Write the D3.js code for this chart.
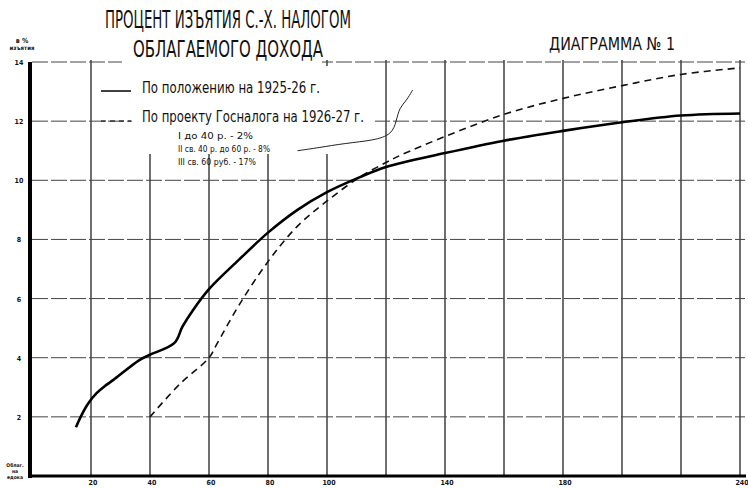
<!DOCTYPE html>
<html lang="ru">
<head>
<meta charset="UTF-8">
<title>Диаграмма № 1</title>
<script src="https://cdn.jsdelivr.net/npm/d3@7"></script>
<style>
  body { margin: 0; background: #fff; }
  svg { display: block; }
  text { font-family: "DejaVu Sans Condensed", "DejaVu Sans", sans-serif; fill: #111; }
</style>
</head>
<body>
<script>
// облагаемый доход на едока (руб.) и процент изъятия
var solidX = [14.9, 16.8, 19.1, 21.9, 24.7, 27.6, 36.4, 40, 48.3, 51, 54.5, 60, 70, 80, 90, 100, 111, 120, 140, 160, 180, 200, 220, 240];
var solidY = [1.65, 2.06, 2.46, 2.8, 3.04, 3.25, 3.92, 4.1, 4.5, 5.05, 5.6, 6.32, 7.3, 8.23, 9.0, 9.6, 10.1, 10.45, 10.92, 11.34, 11.67, 11.96, 12.19, 12.26];

var dashX = [40, 50, 60, 62.6, 70, 80, 90, 100, 111, 120, 125, 140, 160, 180, 200, 220, 240];
var dashY = [2.0, 3.1, 4.0, 4.45, 5.75, 7.25, 8.45, 9.3, 10.1, 10.6, 10.85, 11.48, 12.23, 12.77, 13.2, 13.58, 13.8];

var xGrid = [20, 40, 60, 80, 100, 120, 140, 160, 180, 200, 220, 240];
var xTickLabels = [20, 40, 60, 80, 100, 140, 180, 240];
var yTicks = [2, 4, 6, 8, 10, 12, 14];

var legendNames = ["По положению на 1925-26 г.", "По проекту Госналога на 1926-27 г."];
var rateLines = ["I до 40 р. - 2%", "II св. 40 р. до 60 р. - 8%", "III св. 60 руб. - 17%"];

// стрелка-завиток от легенды к пунктиру
var noteX = [90, 97, 106, 116, 122, 123.5, 124.5, 127, 129];
var noteY = [11.0, 11.1, 11.25, 11.35, 11.55, 12.0, 12.45, 12.7, 13.05];

var W = 748, H = 488;
var x = d3.scaleLinear().domain([0, 240]).range([32, 740]);
var y = d3.scaleLinear().domain([0, 14]).range([476, 62]);

var svg = d3.select("body").append("svg").attr("width", W).attr("height", H);
svg.append("rect").attr("width", W).attr("height", H).attr("fill", "#fff");

// сетка
svg.append("g").selectAll("line").data(xGrid).enter().append("line")
  .attr("x1", function(d) { return x(d); }).attr("x2", function(d) { return x(d); })
  .attr("y1", y(14) - 2).attr("y2", y(0))
  .attr("stroke", "#222").attr("stroke-width", 1.3);

svg.append("g").selectAll("line").data(yTicks).enter().append("line")
  .attr("x1", x(0)).attr("x2", 745)
  .attr("y1", function(d) { return y(d); }).attr("y2", function(d) { return y(d); })
  .attr("stroke", "#444").attr("stroke-width", 1)
  .attr("stroke-dasharray", "16,3");

// пустое поле под заголовком и легендой
svg.append("rect").attr("x", 122).attr("y", 55).attr("width", 200).attr("height", 12).attr("fill", "#fff");
svg.append("rect").attr("x", 132).attr("y", 66).attr("width", 243).attr("height", 88).attr("fill", "#fff");

// оси
svg.append("line").attr("x1", x(0) - 2).attr("x2", x(0) - 2).attr("y1", y(14)).attr("y2", y(0) + 2)
  .attr("stroke", "#000").attr("stroke-width", 4);
svg.append("line").attr("x1", x(0) - 2).attr("x2", 746).attr("y1", y(0)).attr("y2", y(0))
  .attr("stroke", "#000").attr("stroke-width", 3);

svg.append("g").selectAll("text").data(xTickLabels).enter().append("text")
  .attr("x", function(d) { return x(d) + 2; }).attr("y", 485)
  .attr("text-anchor", "middle").attr("font-size", 7).attr("font-weight", "bold")
  .text(function(d) { return d; });

svg.append("g").selectAll("text").data(yTicks).enter().append("text")
  .attr("x", 19).attr("y", function(d) { return y(d) + 3; })
  .attr("text-anchor", "middle").attr("font-size", 7).attr("font-weight", "bold")
  .text(function(d) { return d; });

svg.append("text").attr("x", 22).attr("y", 43).attr("text-anchor", "middle")
  .attr("font-size", 7).attr("font-weight", "bold").text("в %");
svg.append("text").attr("x", 22).attr("y", 50).attr("text-anchor", "middle")
  .attr("font-size", 6).attr("font-weight", "bold").text("изъятия");

["Облаг.", "на", "едока"].forEach(function(t, i) {
  svg.append("text").attr("x", 15).attr("y", 467 + i * 6).attr("text-anchor", "middle")
    .attr("font-size", 5).attr("font-weight", "bold").text(t);
});

// кривые
var solid = solidX.map(function(d, i) { return [d, solidY[i]]; });
var dashed = dashX.map(function(d, i) { return [d, dashY[i]]; });
var line = d3.line()
  .x(function(d) { return x(d[0]); })
  .y(function(d) { return y(d[1]); })
  .curve(d3.curveCatmullRom.alpha(0.5));

svg.append("path").datum(dashed).attr("d", line)
  .attr("fill", "none").attr("stroke", "#111").attr("stroke-width", 1.6)
  .attr("stroke-dasharray", "7,5");
svg.append("path").datum(solid).attr("d", line)
  .attr("fill", "none").attr("stroke", "#000").attr("stroke-width", 2.6);

var note = noteX.map(function(d, i) { return [d, noteY[i]]; });
svg.append("path").datum(note)
  .attr("d", d3.line().x(function(d) { return x(d[0]); }).y(function(d) { return y(d[1]); }).curve(d3.curveBasis))
  .attr("fill", "none").attr("stroke", "#222").attr("stroke-width", 1);

// заголовок
svg.append("text").attr("x", 105).attr("y", 28).attr("font-size", 24)
  .attr("textLength", 246).attr("lengthAdjust", "spacingAndGlyphs")
  .text("ПРОЦЕНТ ИЗЪЯТИЯ С.-Х. НАЛОГОМ");
svg.append("text").attr("x", 133).attr("y", 57).attr("font-size", 23)
  .attr("textLength", 190).attr("lengthAdjust", "spacingAndGlyphs")
  .text("ОБЛАГАЕМОГО ДОХОДА");
svg.append("text").attr("x", 549).attr("y", 50).attr("font-size", 18)
  .attr("textLength", 126).attr("lengthAdjust", "spacingAndGlyphs")
  .text("ДИАГРАММА № 1");

// легенда
svg.append("line").attr("x1", 101).attr("x2", 131).attr("y1", 91).attr("y2", 91)
  .attr("stroke", "#000").attr("stroke-width", 1.5);
svg.append("line").attr("x1", 101).attr("x2", 131).attr("y1", 121).attr("y2", 121)
  .attr("stroke", "#000").attr("stroke-width", 1.2).attr("stroke-dasharray", "5,4");

svg.append("text").attr("x", 142).attr("y", 93).attr("font-size", 15)
  .attr("textLength", 178).attr("lengthAdjust", "spacingAndGlyphs").text(legendNames[0]);
svg.append("text").attr("x", 142).attr("y", 122).attr("font-size", 15)
  .attr("textLength", 222).attr("lengthAdjust", "spacingAndGlyphs").text(legendNames[1]);

var rateW = [75, 92, 78];
svg.append("g").selectAll("text").data(rateLines).enter().append("text")
  .attr("x", 178).attr("y", function(d, i) { return 139 + i * 13; })
  .attr("font-size", 9)
  .attr("textLength", function(d, i) { return rateW[i]; })
  .attr("lengthAdjust", "spacingAndGlyphs")
  .text(function(d) { return d; });
</script>
</body>
</html>
